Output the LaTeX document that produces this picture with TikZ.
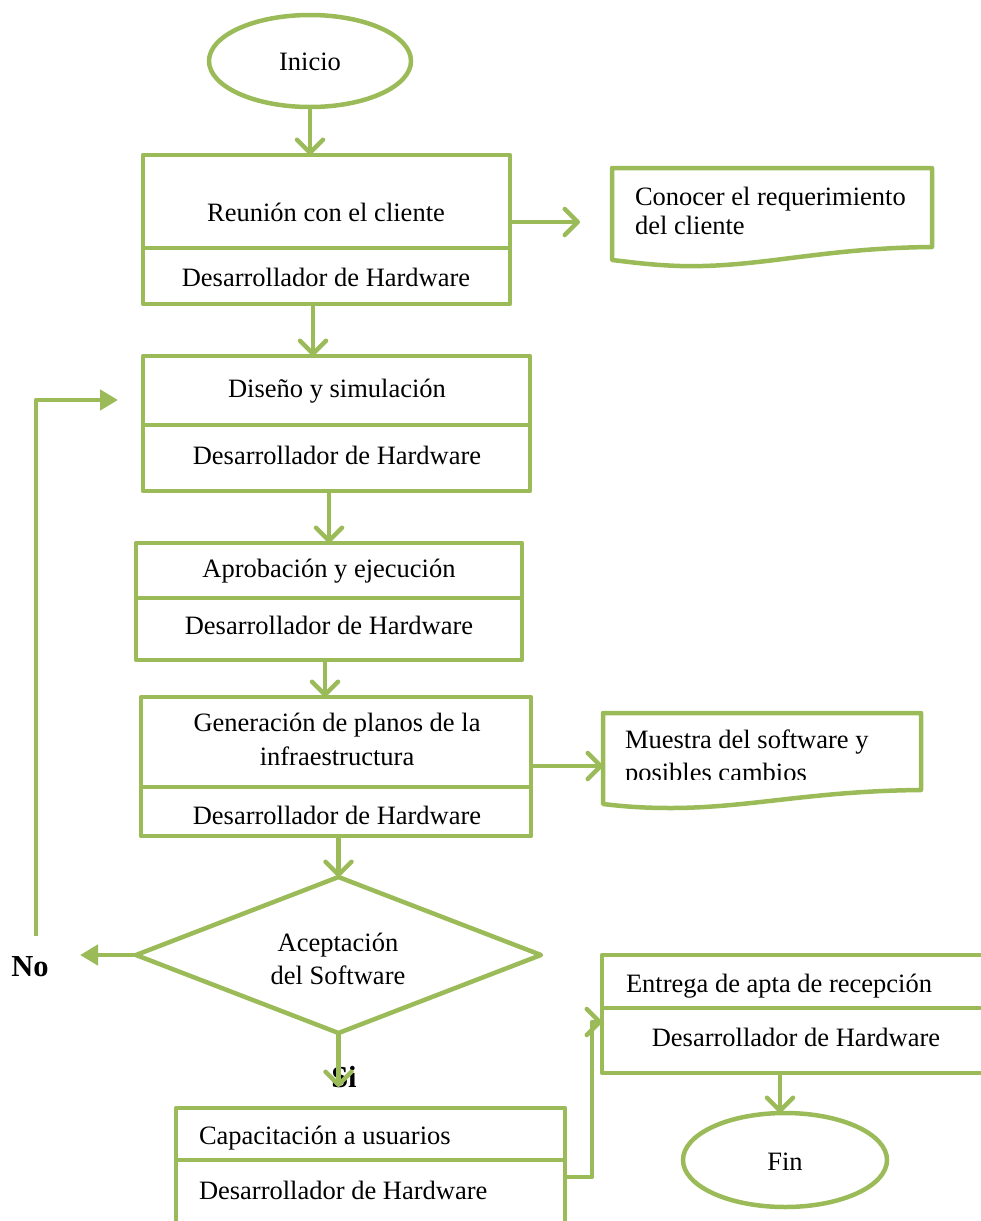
\documentclass[tikz,border=0pt]{standalone}
\usepackage{fontspec}
\setmainfont{Liberation Serif}
\usetikzlibrary{arrows.meta,shapes.geometric}
\definecolor{gr}{HTML}{9BBB59}
\begin{document}
\begin{tikzpicture}[x=1pt,y=-1pt,
  every node/.style={font=\fontsize{26.5}{30}\selectfont, inner sep=0pt, outer sep=0pt},
  box/.style={draw=gr, line width=4.5pt, line join=round, rectangle},
  term/.style={draw=gr, line width=4.5pt, ellipse},
  doc/.style={draw=gr, line width=4.5pt, line join=round},
  flow/.style={draw=gr, line width=4.5pt, line join=round, -{Straight Barb[length=13pt,width=26pt,round]}},
  flowf/.style={draw=gr, line width=4.5pt, line join=round, -{Triangle[length=18pt,width=20pt]}},
  wire/.style={draw=gr, line width=4.5pt, line join=round},
  bold/.style={font=\fontsize{30.5}{34}\selectfont\bfseries}
]
\useasboundingbox (0,0) rectangle (981,1221);

% terminals
\node[term, minimum width=202pt, minimum height=92pt] (ini) at (310,61) {};
\node (iniT) at (310,62) {Inicio};
\node[term, minimum width=204pt, minimum height=94pt] (fin) at (785,1160) {};
\node (finT) at (785,1162) {Fin};

% process boxes: activity / responsible
\node[box, minimum width=367pt, minimum height=93pt] (r1a) at (326.5,201.5) {};
\node[box, minimum width=367pt, minimum height=56pt] (r1b) at (326.5,276) {};
\node (r1aT) at (326,212) {Reunión con el cliente};
\node (r1bT) at (326,277) {Desarrollador de Hardware};

\node[box, minimum width=387pt, minimum height=69pt] (r2a) at (336.5,390.5) {};
\node[box, minimum width=387pt, minimum height=66pt] (r2b) at (336.5,458) {};
\node (r2aT) at (337,391) {Diseño y simulación};
\node (r2bT) at (337,455) {Desarrollador de Hardware};

\node[box, minimum width=386pt, minimum height=55pt] (r3a) at (329,570.5) {};
\node[box, minimum width=386pt, minimum height=62pt] (r3b) at (329,629) {};
\node (r3aT) at (329,571) {Aprobación y ejecución};
\node (r3bT) at (329,625) {Desarrollador de Hardware};

\node[box, minimum width=390pt, minimum height=90pt] (r4a) at (336,742) {};
\node[box, minimum width=390pt, minimum height=49pt] (r4b) at (336,811.5) {};
\node (r4aT1) at (337,725) {Generación de planos de la};
\node (r4aT2) at (337,756) {infraestructura};
\node (r4bT) at (337,815) {Desarrollador de Hardware};

\node[box, minimum width=398pt, minimum height=53pt] (r5a) at (801,981.5) {};
\node[box, minimum width=398pt, minimum height=65pt] (r5b) at (801,1040.5) {};
\node[anchor=west] (r5aT) at (626,986) {Entrega de apta de recepción};
\node (r5bT) at (796,1037) {Desarrollador de Hardware};

\node[box, minimum width=389pt, minimum height=52pt] (r6a) at (370.5,1134) {};
\node[box, minimum width=389pt, minimum height=90pt] (r6b) at (370.5,1205) {};
\node[anchor=west] (r6aT) at (199,1138) {Capacitación a usuarios};
\node[anchor=west] (r6bT) at (199,1190) {Desarrollador de Hardware};

% decision
\node[draw=gr, line width=4.5pt, line join=round, diamond, shape aspect=2.6,
      minimum width=405pt, minimum height=156pt] (dec) at (338.5,955) {};
\node (decT1) at (338,945) {Aceptación};
\node (decT2) at (338,975) {del Software};

% documents
\draw[doc] (612,168) -- (932,168) -- (932,247)
  .. controls (820,248) and (760,268) .. (680,266)
  .. controls (650,265) and (630,262) .. (612,260) -- cycle;
\node[anchor=base west] (d1T1) at (635,205) {Conocer el requerimiento};
\node[anchor=base west] (d1T2) at (635,234) {del cliente};

\draw[doc] (603,713) -- (921,713) -- (921,790)
  .. controls (810,791) and (750,808) .. (670,808)
  .. controls (640,808) and (620,806) .. (603,804) -- cycle;
\node[anchor=base west] (d2T1) at (625,748) {Muestra del software y};
\begin{scope}
  \clip (600,700) rectangle (930,779);
  \node[anchor=base west] (d2T2) at (625,781) {posibles cambios};
\end{scope}

% labels of the decision branches
\node[bold] (noT) at (30,967) {No};
\node[bold] (siT) at (344,1077) {Si};

% connectors
\coordinate (reqin) at (580,222);
\coordinate (docB) at (603,766);
\coordinate (siend) at (338,1087);
\coordinate (noend) at (80,955);
\coordinate (loopA) at (36,936);
\coordinate (loopB) at (118,400);
\coordinate (capout) at (565,1177);
\coordinate (capbend) at (592,1177);
\coordinate (entin) at (602,1022);

\draw[flow] (ini.south) -- (ini.south |- r1a.north);
\draw[flow] (r1a.east |- reqin) -- (reqin);
\draw[flow] ([xshift=3pt]ini.south |- r1b.south) -- ([xshift=3pt]ini.south |- r2a.north);
\draw[flow] (r3a.north |- r2b.south) -- (r3a.north);
\draw[flow] ([xshift=-4pt]r3b.south) -- ([xshift=-4pt]r3b.south |- r4a.north);
\draw[flow] (r4a.east |- docB) -- (docB);
\draw[flow] (dec.north |- r4b.south) -- (dec.north);
\draw[flow] (dec.south) -- (dec.south |- siend);
\draw[flowf] (dec.west) -- (noend);
\draw[flowf] (loopA) |- (loopB);
\draw[flow] (capout) -- (capbend) |- (entin);
\draw[flow] ([xshift=-5pt]fin.north |- r5b.south) -- ([xshift=-5pt]fin.north);
\end{tikzpicture}
\end{document}
